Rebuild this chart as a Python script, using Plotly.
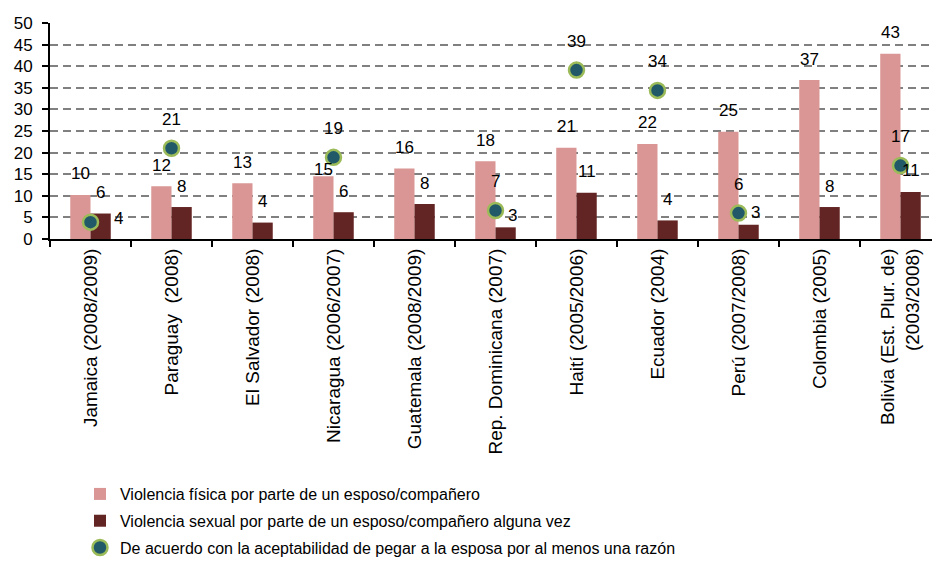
import plotly.graph_objects as go

categories = [
    "Jamaica (2008/2009)", "Paraguay  (2008)", "El Salvador (2008)", "Nicaragua (2006/2007)",
    "Guatemala (2008/2009)", "Rep. Dominicana (2007)", "Haití (2005/2006)", "Ecuador (2004)",
    "Perú (2007/2008)", "Colombia (2005)", "Bolivia (Est. Plur. de)<br>(2003/2008)",
]
fisica = [10.2, 12.2, 12.9, 14.5, 16.3, 18.0, 21.1, 22.0, 24.8, 36.8, 42.9]
fisica_labels = ["10", "12", "13", "15", "16", "18", "21", "22", "25", "37", "43"]
sexual = [5.9, 7.4, 3.8, 6.2, 8.1, 2.7, 10.7, 4.3, 3.3, 7.4, 10.9]
sexual_labels = ["6", "8", "4", "6", "8", "3", "11", "4", "3", "8", "11"]
acuerdo = [3.9, 21.0, None, 18.9, None, 6.6, 39.1, 34.4, 6.0, None, 17.0]
acuerdo_labels = ["4", "21", "", "19", "", "7", "39", "34", "6", "", "17"]

names = [
    "Violencia física por parte de un esposo/compañero",
    "Violencia sexual por parte de un esposo/compañero alguna vez",
    "De acuerdo con la aceptabilidad de pegar a la esposa por al menos una razón",
]

FONT = "Liberation Sans, Arial, sans-serif"
LIGHT = "#D99694"
DARK = "#632523"
TEAL = "#215968"
GREEN = "#9BBB59"

# label offsets (pixels): style only
fis_shift = {3: (0, 7)}
sex_shift = {5: (7, 12), 8: (7, 12)}
acu_shift = {0: (28, 4)}

fig = go.Figure()
fig.add_trace(go.Bar(x=categories, y=fisica, name=names[0], marker_color=LIGHT,
                     marker_line_width=0, legendgroup="g1"))
fig.add_trace(go.Bar(x=categories, y=sexual, name=names[1], marker_color=DARK,
                     marker_line_width=0, legendgroup="g2"))
fig.add_trace(go.Scatter(x=categories, y=acuerdo, name=names[2], mode="markers",
                         legendgroup="g3",
                         marker=dict(size=15, color=TEAL, line=dict(color=GREEN, width=2.5))))

annotations = []
def add_labels(vals, labels, offset, shifts, default):
    for i, (v, t) in enumerate(zip(vals, labels)):
        if v is None or t == "":
            continue
        dx, dy = shifts.get(i, default)
        annotations.append(dict(x=i + offset, y=v, xref="x", yref="y", text=t,
                                showarrow=False, xanchor="center", yanchor="middle",
                                xshift=dx, yshift=dy,
                                font=dict(family=FONT, size=17, color="black")))

add_labels(fisica, fisica_labels, -0.125, fis_shift, (0, 21))
add_labels(sexual, sexual_labels, 0.125, sex_shift, (0, 21))
add_labels(acuerdo, acuerdo_labels, 0.0, acu_shift, (0, 29))

fig.update_layout(
    width=932, height=562,
    margin=dict(l=50, r=0, t=23, b=323, autoexpand=False),
    paper_bgcolor="white", plot_bgcolor="white",
    barmode="group", bargap=0.5, bargroupgap=0,
    font=dict(family=FONT, size=17, color="black"),
    showlegend=True,
    legend=dict(x=0.034, y=-1.102, xanchor="left", yanchor="top",
                orientation="v", font=dict(size=16, family=FONT),
                traceorder="grouped", tracegroupgap=3,
                bgcolor="rgba(0,0,0,0)"),
    annotations=annotations,
)
fig.update_xaxes(type="category", range=[-0.5, 10.389], showline=True, linecolor="black",
                 linewidth=2, ticks="outside", tickson="boundaries", ticklen=6, tickwidth=2,
                 tickcolor="black", tickangle=-90, tickfont=dict(size=19, family=FONT),
                 showgrid=False, automargin=False)
fig.update_yaxes(range=[0, 50], dtick=5, showgrid=True, gridcolor="#808080", gridwidth=2,
                 griddash="8px,5px", showline=True, linecolor="black", linewidth=2,
                 ticks="outside", ticklen=6, tickwidth=2, tickcolor="black",
                 tickfont=dict(size=17, family=FONT), zeroline=False, automargin=False,
                 ticklabelstandoff=6)

fig.write_html("out.html", config={"displayModeBar": False},
               post_script="document.body.style.margin='0px';document.body.style.overflow='hidden';")
